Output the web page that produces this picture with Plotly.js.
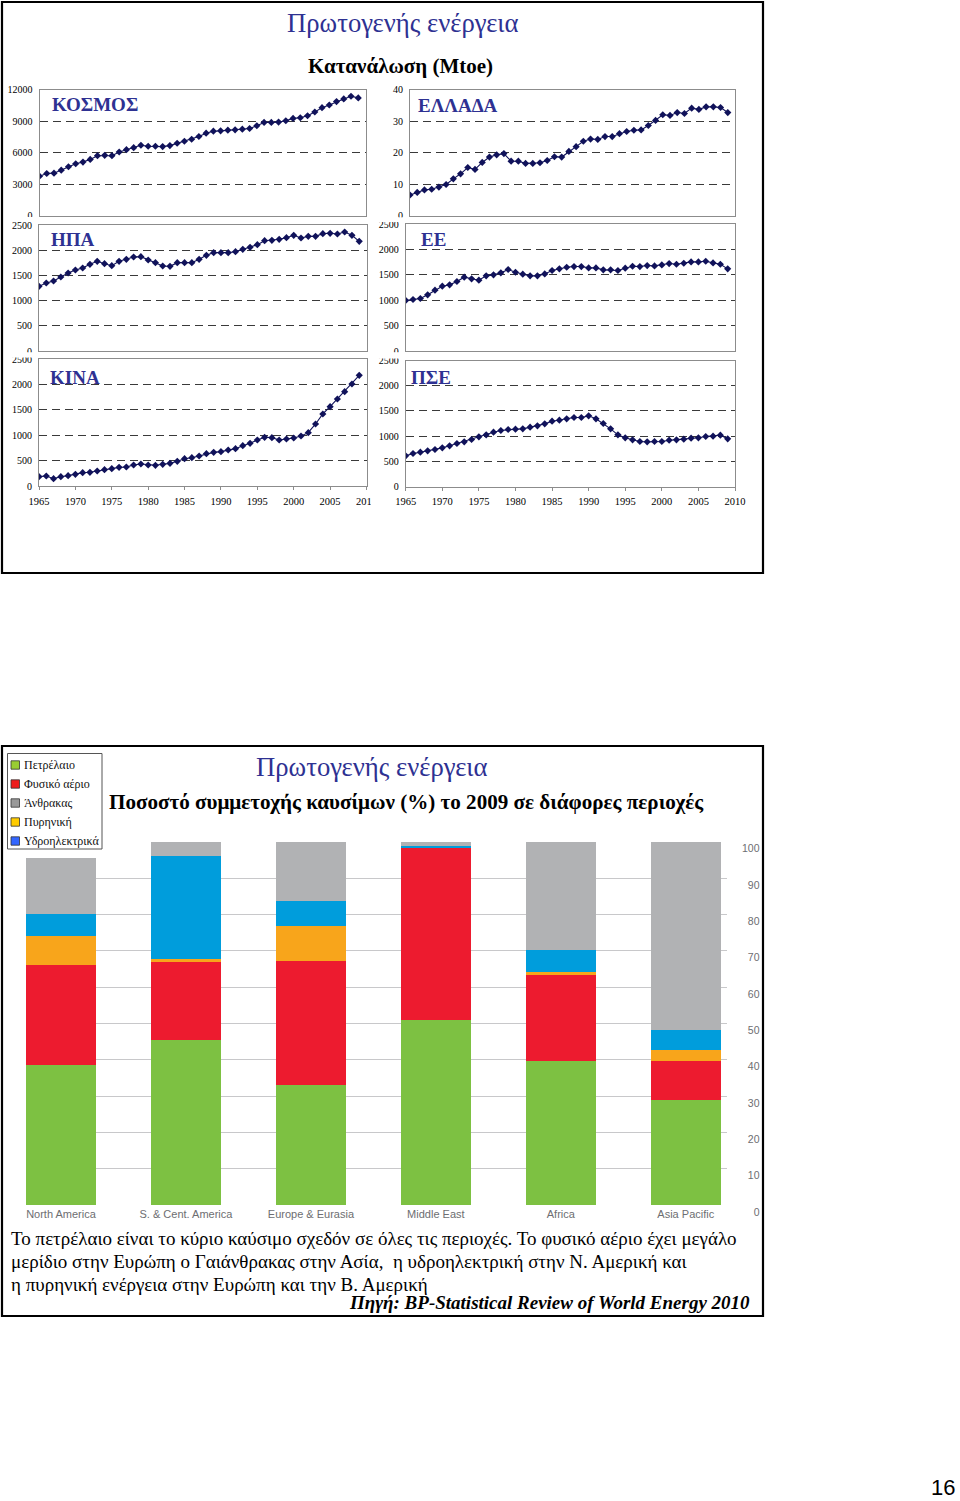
<!DOCTYPE html>
<html><head><meta charset="utf-8">
<script src="https://cdn.plot.ly/plotly-3.0.1.min.js"></script>
<style>html,body{margin:0;padding:0;background:#fff;} #chart{width:960px;height:1501px;}</style>
</head><body><div id="chart"></div>
<script>
// ---------- DATA ----------
const years = [1965,1966,1967,1968,1969,1970,1971,1972,1973,1974,1975,1976,1977,1978,1979,1980,1981,1982,1983,1984,1985,1986,1987,1988,1989,1990,1991,1992,1993,1994,1995,1996,1997,1998,1999,2000,2001,2002,2003,2004,2005,2006,2007,2008,2009];
const world = [3744,4000,4032,4320,4640,4928,5088,5344,5696,5728,5696,6048,6272,6464,6688,6592,6592,6560,6656,6880,7072,7264,7520,7840,8032,8064,8128,8160,8224,8288,8544,8864,8864,8896,9024,9248,9312,9504,9856,10272,10528,10848,11104,11360,11200];
const greece = [6.6,7.4,8.2,8.4,9.1,9.9,11.7,13.3,15.3,14.7,16.9,18.6,19.3,19.7,17.3,17.3,16.6,16.6,16.8,17.5,18.7,18.6,20.4,21.9,23.6,24.3,24.2,25.1,25.1,26.0,26.7,27.1,27.2,28.6,30.2,32.0,31.8,32.7,32.4,34.1,33.7,34.5,34.5,34.3,32.7];
const usa = [1283,1349,1389,1468,1548,1607,1647,1720,1779,1733,1693,1779,1819,1865,1872,1806,1753,1687,1680,1753,1753,1753,1819,1898,1951,1951,1951,1971,2017,2057,2110,2189,2196,2216,2249,2295,2242,2275,2275,2328,2335,2321,2361,2295,2176];
const eu = [995,1014,1034,1106,1198,1276,1302,1368,1453,1420,1394,1479,1499,1538,1604,1551,1512,1479,1479,1518,1584,1617,1649,1662,1662,1636,1636,1597,1597,1584,1630,1669,1662,1682,1675,1695,1721,1708,1728,1754,1754,1767,1734,1708,1617];
const china = [184,197,145,184,204,230,263,270,296,322,342,368,375,414,434,414,408,428,447,487,539,559,592,638,664,678,711,737,796,842,908,961,954,908,928,947,987,1053,1224,1421,1566,1717,1862,2013,2184];
const fsu = [608,655,681,708,734,767,807,853,886,933,985,1025,1078,1111,1131,1138,1144,1177,1204,1243,1296,1316,1343,1369,1369,1402,1343,1250,1144,1025,966,926,893,886,893,893,919,926,939,959,966,992,999,1019,946];
const panelNames = ['ΚΟΣΜΟΣ','ΕΛΛΑΔΑ','ΗΠΑ','ΕΕ','ΚΙΝΑ','ΠΣΕ'];
const yearTicks = [1965,1970,1975,1980,1985,1990,1995,2000,2005,2010];
const worldTicks = [0,3000,6000,9000,12000];
const greeceTicks = [0,10,20,30,40];
const mtoeTicks = [0,500,1000,1500,2000,2500];

const regions = ['North America','S. & Cent. America','Europe & Eurasia','Middle East','Africa','Asia Pacific'];
const fuelNames = ['Πετρέλαιο','Φυσικό αέριο','Άνθρακας','Πυρηνική','Υδροηλεκτρικά'];
const oil     = [38.5,45.4,33.0,50.9,39.7,28.9];
const gas     = [27.6,21.6,34.3,47.3,23.6,10.8];
const coal    = [15.4,3.9,16.3,1.2,29.8,51.8];
const nuclear = [8.0,0.6,9.6,0.0,0.7,3.0];
const hydro   = [6.1,28.5,6.8,0.6,6.2,5.5];
const pctTicks = [0,10,20,30,40,50,60,70,80,90,100];

// ---------- STYLE / LAYOUT ----------
const W = 960, H = 1501;
const X = p => p / W;
const Y = p => 1 - p / H;
const NAVY = '#2e3192';
const SERIF = 'Liberation Serif, Times New Roman, serif';
const SANS = 'Liberation Sans, Arial, sans-serif';

const panels = [
  {v: world,  ticks: worldTicks,  top: 12000, xd: [39.5, 365.5], yd: [89.5, 215.5], lab: [50, 104], bottom: false},
  {v: greece, ticks: greeceTicks, top: 40,    xd: [410, 735],    yd: [89.5, 215.8], lab: [416, 106], bottom: false},
  {v: usa,    ticks: mtoeTicks,   top: 2500,  xd: [39, 366.5],   yd: [225, 351],    lab: [49, 240], bottom: false},
  {v: eu,     ticks: mtoeTicks,   top: 2500,  xd: [405.7, 735],  yd: [224, 351],    lab: [419, 239], bottom: false},
  {v: china,  ticks: mtoeTicks,   top: 2500,  xd: [39, 366.5],   yd: [359.3, 486],  lab: [48, 377], bottom: true},
  {v: fsu,    ticks: mtoeTicks,   top: 2500,  xd: [405.7, 735],  yd: [360.5, 486.5], lab: [409, 377], bottom: true}
];

const data = [];
const layout = {
  width: W, height: H,
  margin: {l: 0, r: 0, t: 0, b: 0},
  paper_bgcolor: '#fff', plot_bgcolor: 'rgba(0,0,0,0)',
  showlegend: false,
  barmode: 'stack',
  annotations: [], shapes: []
};

panels.forEach((p, i) => {
  const n = i + 1;
  const xa = 'x' + n, ya = 'y' + n;
  data.push({
    type: 'scatter', mode: 'lines+markers', x: years, y: p.v,
    xaxis: xa, yaxis: ya,
    line: {color: '#10125a', width: 1.1},
    marker: {symbol: 'diamond', size: 5.5, color: '#10125a'},
    hoverinfo: 'x+y'
  });
  layout['xaxis' + n] = {
    domain: [X(p.xd[0]), X(p.xd[1])], range: [1965, 2010], anchor: ya,
    tickvals: yearTicks, showticklabels: p.bottom, tickformat: 'd',
    ticks: p.bottom ? 'outside' : '', ticklen: 3, tickcolor: '#8c8c8c',
    tickfont: {family: SERIF, size: 10.5, color: '#000'}, ticklabelstandoff: 2,
    showgrid: false, zeroline: false, showline: true, mirror: true,
    linecolor: '#8c8c8c', linewidth: 1, fixedrange: true
  };
  layout['yaxis' + n] = {
    domain: [Y(p.yd[1]), Y(p.yd[0])], range: [0, p.top], anchor: xa,
    tickvals: p.ticks, ticks: '', tickformat: 'd', exponentformat: 'none', separatethousands: false,
    tickfont: {family: SERIF, size: 10, color: '#000'}, ticklabelstandoff: 4,
    showgrid: true, gridcolor: '#3a3a3a', gridwidth: 1, griddash: '8px,5px',
    zeroline: false, showline: true, mirror: true, linecolor: '#8c8c8c', linewidth: 1,
    fixedrange: true
  };
  layout.annotations.push({
    xref: 'paper', yref: 'paper', x: X(p.lab[0]), y: Y(p.lab[1]),
    xanchor: 'left', yanchor: 'middle', showarrow: false,
    text: panelNames[i],
    font: {family: SERIF, size: 19, color: NAVY, weight: 'bold'}
  });
});

// stacked bars (bottom to top: oil, gas, nuclear, hydro, coal)
const barColors = {oil: '#7dc142', gas: '#ed1b2f', coal: '#b1b2b4', nuclear: '#f8a51b', hydro: '#009ddc'};
const stack = [
  [fuelNames[0], oil, barColors.oil],
  [fuelNames[1], gas, barColors.gas],
  [fuelNames[3], nuclear, barColors.nuclear],
  [fuelNames[4], hydro, barColors.hydro],
  [fuelNames[2], coal, barColors.coal]
];
stack.forEach(s => data.push({
  type: 'bar', name: s[0], x: regions, y: s[1], xaxis: 'x7', yaxis: 'y7',
  width: 0.56, marker: {color: s[2], line: {width: 0}}
}));
data.push({type: 'scatter', x: [], y: [], xaxis: 'x7', yaxis: 'y8', hoverinfo: 'skip'});

layout.xaxis7 = {
  domain: [X(26), X(727)], range: [-0.28, 5.33], type: 'category', anchor: 'y7',
  ticks: '', showgrid: false, zeroline: false, showline: false,
  tickfont: {family: SANS, size: 11, color: '#6d6e71'}, ticklabelstandoff: 1, fixedrange: true
};
layout.yaxis7 = {
  domain: [Y(1205), Y(841.7)], range: [0, 100], anchor: 'x7', side: 'right',
  tickvals: pctTicks, showticklabels: false, ticks: '',
  showgrid: true, gridcolor: '#c8c8ca', gridwidth: 1, zeroline: false, showline: false, fixedrange: true
};
// label axis: printed a few pixels below each gridline, as in the source figure
layout.yaxis8 = {
  overlaying: 'y7', side: 'left', anchor: 'free', position: X(759.5),
  range: [0, 100], tickvals: pctTicks, ticks: '', showgrid: false, zeroline: false, showline: false,
  ticklabelshift: 7,
  tickfont: {family: SANS, size: 10.5, color: '#6d6e71'}, ticklabelstandoff: 0, fixedrange: true
};

// white covers mimicking clipped chart areas
const cover = (x0, y0, x1, y1) => layout.shapes.push({
  type: 'rect', xref: 'paper', yref: 'paper', x0: X(x0), x1: X(x1), y0: Y(y1), y1: Y(y0),
  fillcolor: '#fff', line: {width: 0}, layer: 'above'
});
cover(4, 217, 38, 222);
cover(376, 217.3, 405, 222);
cover(4, 352.2, 38, 357.5);
cover(376, 352.2, 404, 358.5);
cover(371, 493, 380, 510);

// frames
const frame = (x0, y0, x1, y1, c, w) => layout.shapes.push({
  type: 'rect', xref: 'paper', yref: 'paper', x0: X(x0), x1: X(x1), y0: Y(y1), y1: Y(y0),
  line: {color: c, width: w}, fillcolor: 'rgba(0,0,0,0)', layer: 'above'
});
frame(2, 2, 763, 573, '#000', 2.2);
frame(2, 746, 763, 1316, '#000', 2.2);

// manual legend
const legendColors = ['#99cc33', '#ee1c1c', '#999999', '#ffcc00', '#3366ff'];
frame(7.5, 753.5, 102, 849, '#555', 1);
fuelNames.forEach((nm, i) => {
  const cy = 765 + i * 19;
  layout.shapes.push({
    type: 'rect', xref: 'paper', yref: 'paper', x0: X(11), x1: X(19.5), y0: Y(cy + 4.2), y1: Y(cy - 4.2),
    fillcolor: legendColors[i], line: {color: '#333', width: 0.8}, layer: 'above'
  });
  layout.annotations.push({
    xref: 'paper', yref: 'paper', x: X(21.5), y: Y(cy), xanchor: 'left', yanchor: 'middle',
    showarrow: false, text: nm, font: {family: SERIF, size: 12, color: '#111'}
  });
});

// titles and texts
const ann = (text, x, y, xanchor, font) => layout.annotations.push({
  xref: 'paper', yref: 'paper', x: X(x), y: Y(y), xanchor: xanchor, yanchor: 'middle',
  showarrow: false, text: text, font: font, borderpad: 0
});
ann('Πρωτογενής ενέργεια', 402.5, 23, 'center', {family: SERIF, size: 26.7, color: NAVY});
ann('Κατανάλωση (Mtoe)', 400, 66, 'center', {family: SERIF, size: 21, color: '#000', weight: 'bold'});
ann('Πρωτογενής ενέργεια', 372, 767, 'center', {family: SERIF, size: 26.7, color: NAVY});
ann('Ποσοστό συμμετοχής καυσίμων (%) το 2009 σε διάφορες περιοχές', 406.5, 802, 'center', {family: SERIF, size: 21.1, color: '#000', weight: 'bold'});
ann('Το πετρέλαιο είναι το κύριο καύσιμο σχεδόν σε όλες τις περιοχές. Το φυσικό αέριο έχει μεγάλο', 10, 1238, 'left', {family: SERIF, size: 19, color: '#000'});
ann('μερίδιο στην Ευρώπη ο Γαιάνθρακας στην Ασία,  η υδροηλεκτρική στην Ν. Αμερική και', 10, 1261, 'left', {family: SERIF, size: 19, color: '#000'});
ann('η πυρηνική ενέργεια στην Ευρώπη και την Β. Αμερική', 10, 1284, 'left', {family: SERIF, size: 19, color: '#000'});
ann('Πηγή: BP-Statistical Review of World Energy 2010', 751, 1302, 'right', {family: SERIF, size: 19, color: '#000', weight: 'bold', style: 'italic'});
ann('16', 943, 1487, 'center', {family: SANS, size: 22, color: '#000'});

Plotly.newPlot('chart', data, layout, {staticPlot: true, displayModeBar: false});
</script>
</body></html>
